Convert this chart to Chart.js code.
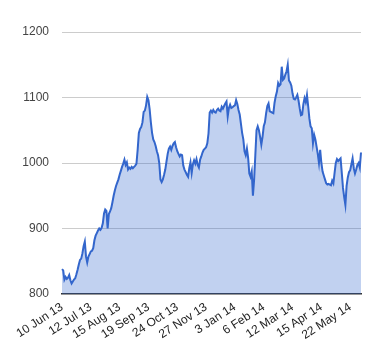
<!DOCTYPE html>
<html>
<head>
<meta charset="utf-8">
<script src="https://cdn.jsdelivr.net/npm/chart.js@4/dist/chart.umd.min.js"></script>
<style>
html,body{margin:0;padding:0;background:#fff;}
#wrap{width:380px;height:360px;position:relative;}
</style>
</head>
<body>
<div id="wrap"><canvas id="c" width="380" height="360"></canvas></div>
<script>
// Tick labels shown every 24 trading days
const tickLabels = ['10 Jun 13','12 Jul 13','15 Aug 13','19 Sep 13','24 Oct 13','27 Nov 13','3 Jan 14','6 Feb 14','12 Mar 14','15 Apr 14','22 May 14'];
const labelStep = 24;
const yTicks = [800, 900, 1000, 1100, 1200];

// Daily closing values
const values = [
  838, 836, 822, 826, 823, 825, 829, 821, 816, 819,
  822, 824, 830, 837, 845, 852, 854, 862, 873, 880,
  857, 848, 857, 861, 865, 866, 870, 882, 889, 893,
  897, 900, 898, 901, 908, 923, 929, 927, 900, 922,
  926, 931, 940, 950, 958, 965, 970, 975, 982, 988,
  994, 999, 1005, 997, 1001, 990, 993, 991, 994, 992,
  994, 996, 999, 1020, 1046, 1052, 1055, 1062, 1078, 1080,
  1088, 1101, 1096, 1082, 1062, 1046, 1036, 1032, 1026, 1018,
  1012, 1000, 975, 971, 975, 982, 990, 1002, 1014, 1022,
  1025, 1020, 1026, 1030, 1032, 1024, 1018, 1014, 1010, 1013,
  1012, 996, 990, 986, 982, 979, 992, 1001, 985, 998,
  1004, 999, 1006, 997, 993, 1005, 1010, 1016, 1020, 1022,
  1024, 1030, 1045, 1077, 1080, 1077, 1081, 1078, 1077, 1081,
  1083, 1080, 1079, 1086, 1083, 1087, 1091, 1094, 1071, 1084,
  1089, 1084, 1085, 1087, 1088, 1096, 1090, 1081, 1074, 1060,
  1046, 1036, 1018, 1012, 1022, 1008, 984, 979, 987, 950,
  975, 1012, 1050, 1056, 1050, 1040, 1028, 1040, 1056, 1062,
  1076, 1087, 1091, 1079, 1078, 1077, 1076, 1092, 1102, 1109,
  1122, 1118, 1120, 1147, 1127, 1129, 1135, 1140, 1150, 1126,
  1123, 1118, 1106, 1098, 1097, 1100, 1104, 1095, 1083, 1073,
  1074, 1090, 1099, 1093, 1104, 1087, 1068, 1056, 1053, 1030,
  1043, 1036, 1025, 1014, 1000, 1020, 1000, 987, 981, 975,
  969, 967, 968, 967, 966, 973, 969, 985, 1000, 1006,
  1003, 1005, 1007, 985, 962, 948, 936, 965, 978, 986,
  989, 998, 1007, 992, 984, 990, 997, 1000, 993, 1016
];

const categories = values.map((v, i) => (i % labelStep === 0 && tickLabels[i / labelStep]) ? tickLabels[i / labelStep] : '');

const FONT = "'Liberation Sans', Arial, sans-serif";

new Chart(document.getElementById('c'), {
  type: 'line',
  data: {
    labels: categories,
    datasets: [{
      data: values,
      borderColor: '#3366cc',
      backgroundColor: 'rgba(51,102,204,0.3)',
      borderWidth: 2,
      pointRadius: 0,
      pointHoverRadius: 0,
      tension: 0,
      fill: 'start'
    }]
  },
  options: {
    responsive: false,
    animation: false,
    events: [],
    layout: { padding: { left: 0, right: 19, top: 32, bottom: 0 } },
    plugins: { legend: { display: false }, tooltip: { enabled: false } },
    scales: {
      x: {
        type: 'category',
        grid: { display: false, drawTicks: false },
        border: { display: true, color: '#333', width: 1.5 },
        ticks: {
          autoSkip: false,
          minRotation: 33,
          maxRotation: 33,
          padding: 6,
          color: '#222',
          font: { family: FONT, size: 12 },
          callback: function(v, i) { const l = this.getLabelForValue(v); return l === '' ? null : l; }
        },
        afterFit: s => { s.height = 66; }
      },
      y: {
        min: 800,
        max: 1200,
        afterBuildTicks: s => { s.ticks = yTicks.map(v => ({ value: v })); },
        grid: {
          drawTicks: false,
          color: c => (c.tick && c.tick.value === 800) ? 'rgba(0,0,0,0)' : '#cccccc',
          lineWidth: 1
        },
        border: { display: false },
        ticks: {
          padding: 13,
          color: '#444',
          font: { family: FONT, size: 12 },
          callback: v => String(v)
        },
        afterFit: s => { s.width = 62; }
      }
    }
  }
});
</script>
</body>
</html>
